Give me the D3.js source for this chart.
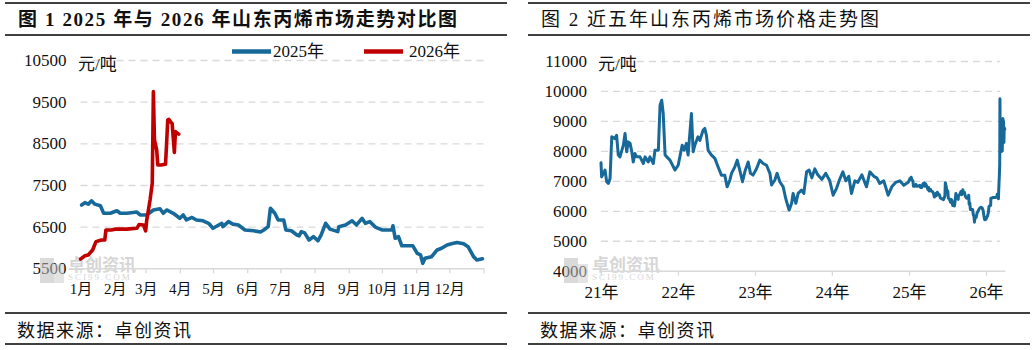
<!DOCTYPE html>
<html><head><meta charset="utf-8">
<script src="https://cdn.jsdelivr.net/npm/d3@7"></script>
<style>
html,body{margin:0;padding:0;background:#fff;}
svg{display:block;}
</style></head><body>
<svg id="chart" width="1035" height="350"></svg>
<script>
// ---------- data ----------
const monthLabels = ["1月","2月","3月","4月","5月","6月","7月","8月","9月","10月","11月","12月"];
const yearLabels = ["21年","22年","23年","24年","25年","26年"];
const ticksCompare = [5500,6500,7500,8500,9500,10500];
const ticksFiveYear = [4000,5000,6000,7000,8000,9000,10000,11000];
const seriesNames = ["2025年","2026年"];

// 2025 Shandong propylene price (yuan/ton)
const days2025 = ["01-02","01-05","01-08","01-11","01-14","01-19","01-22","01-28","02-03","02-06","02-12","02-21","02-24","03-02","03-08","03-14","03-17","03-20","03-26","04-01","04-04","04-07","04-12","04-16","04-22","04-27","05-01","05-09","05-10","05-15","05-19","05-24","05-30","06-07","06-13","06-16","06-20","06-22","06-26","06-29","07-04","07-06","07-11","07-16","07-18","07-20","07-23","07-27","07-31","08-04","08-07","08-11","08-15","08-22","08-23","08-29","09-04","09-08","09-13","09-16","09-20","09-25","10-01","10-10","10-11","10-13","10-16","10-19","10-29","11-02","11-05","11-07","11-09","11-15","11-20","11-24","11-29","12-03","12-08","12-14","12-18","12-23","12-26","12-31"];
const price2025 = [7020,7075,7040,7120,7040,7000,6820,6820,6880,6820,6820,6850,6780,6780,6900,6930,6820,6900,6820,6700,6780,6660,6720,6660,6640,6580,6460,6580,6500,6620,6560,6540,6420,6400,6370,6420,6500,6940,6820,6660,6660,6420,6400,6300,6280,6380,6350,6180,6260,6160,6300,6580,6440,6380,6500,6540,6640,6540,6700,6580,6620,6490,6420,6420,6520,6220,6260,6040,6040,5860,5820,5620,5740,5780,5940,5980,6060,6090,6120,6090,6020,5780,5700,5730];

// 2026 Shandong propylene price (yuan/ton)
const days2026 = ["01-01","01-05","01-08","01-12","01-15","01-20","01-23","01-24","01-29","02-01","02-12","02-21","02-23","02-27","03-01","03-02","03-05","03-07","03-08","03-09","03-11","03-12","03-15","03-19","03-20","03-21","03-22","03-24","03-25","03-27","03-28","03-30","03-31"];
const price2026 = [5720,5800,5820,5940,6140,6180,6180,6420,6420,6440,6440,6460,6550,6540,6400,6660,7140,7540,9740,8580,8340,7980,7980,8000,8500,9060,9075,9000,8980,8280,8780,8740,8720];

// 2021-2024 Shandong propylene price (yuan/ton)
const histDates = ["2021-01-01","2021-01-04","2021-01-20","2021-01-28","2021-02-05","2021-02-13","2021-02-21","2021-03-08","2021-03-16","2021-03-24","2021-04-01","2021-04-17","2021-04-25","2021-05-03","2021-05-10","2021-05-19","2021-05-27","2021-06-03","2021-06-11","2021-06-19","2021-07-05","2021-07-21","2021-07-29","2021-08-13","2021-08-21","2021-09-06","2021-09-14","2021-09-30","2021-10-08","2021-10-16","2021-10-23","2021-11-01","2021-11-09","2021-11-24","2021-12-10","2021-12-18","2022-01-02","2022-01-10","2022-01-21","2022-01-30","2022-02-10","2022-02-18","2022-03-06","2022-03-14","2022-03-22","2022-04-06","2022-04-15","2022-04-30","2022-05-08","2022-05-16","2022-05-24","2022-06-09","2022-06-25","2022-07-10","2022-07-26","2022-08-11","2022-08-22","2022-09-04","2022-09-12","2022-09-28","2022-10-09","2022-10-21","2022-11-03","2022-11-14","2022-11-30","2022-12-11","2022-12-23","2023-01-09","2023-01-24","2023-02-09","2023-02-25","2023-03-13","2023-03-21","2023-04-05","2023-04-16","2023-04-29","2023-05-15","2023-05-27","2023-06-12","2023-06-24","2023-07-01","2023-07-14","2023-07-25","2023-08-10","2023-08-21","2023-09-03","2023-09-15","2023-09-28","2023-10-12","2023-10-26","2023-11-14","2023-12-03","2023-12-22","2024-01-07","2024-01-23","2024-02-07","2024-02-22","2024-03-07","2024-03-21","2024-04-03","2024-04-19","2024-05-03","2024-05-22","2024-06-13","2024-06-29","2024-07-18","2024-08-01","2024-08-15","2024-09-03","2024-09-24","2024-10-11","2024-10-30","2024-11-18","2024-12-07","2024-12-28"];
const histPrices = [7600,7130,7360,6970,6910,7080,8470,8410,8520,7860,7800,8190,8580,7970,8300,8250,7970,7630,7910,7800,7800,7580,7800,7630,7800,7580,8020,8020,9520,9690,9250,7860,7800,7690,7470,7360,7520,7800,8190,8020,8250,7860,9250,7970,8190,8470,8350,8690,8750,8520,8020,7860,7750,7470,7190,7190,6800,7020,7250,7470,7690,7360,6970,7300,7630,7250,7190,7410,7690,7580,7520,7250,6860,7020,7250,6970,6800,6410,6020,6250,6580,6250,6580,6690,6580,7300,7360,7100,7400,7200,7050,7250,7000,6520,6750,7050,7300,7000,7150,6580,7000,6950,7200,6800,7300,7150,7100,6910,7000,6520,6800,6950,7000,6850,6950];

// ---------- styles ----------
const FONT = '"Liberation Serif","DejaVu Serif","Noto Sans CJK SC",serif';
const INK = "#111";
const BLUE = "#17699a";
const RED = "#c00000";
const GRID = "#d9d9d9";

const svg = d3.select("#chart");
const parse = d3.timeParse("%Y-%m-%d");

// panel frame: rules and title / source text
function frame(x0, x1, title, titleX, weight, spacing) {
  const g = svg.append("g");
  [3, 35, 313, 344].forEach(y => {
    g.append("line").attr("x1", x0).attr("x2", x1).attr("y1", y).attr("y2", y)
      .attr("stroke", "#000").attr("stroke-width", 1.4);
  });
  g.append("text").attr("x", titleX).attr("y", 19).attr("dominant-baseline", "central")
    .attr("font-family", FONT).attr("font-size", 19).attr("font-weight", weight)
    .attr("letter-spacing", spacing).attr("fill", INK).text(title);
  g.append("text").attr("x", titleX - 1).attr("y", 331).attr("dominant-baseline", "central")
    .attr("font-family", FONT).attr("font-size", 18).attr("letter-spacing", 1.5)
    .attr("fill", INK).text("数据来源：卓创资讯");
}

// faint publisher mark near the origin
function watermark(x, y) {
  const g = svg.append("g").attr("opacity", 0.55);
  g.append("rect").attr("x", x).attr("y", y - 8).attr("width", 14).attr("height", 25).attr("fill", "#bdbdbd");
  g.append("rect").attr("x", x + 14).attr("y", y - 2).attr("width", 10).attr("height", 19).attr("fill", "#cfcfcf");
  g.append("text").attr("x", x + 28).attr("y", y - 1).attr("dominant-baseline", "central")
    .attr("font-family", FONT).attr("font-size", 17).attr("font-weight", "bold")
    .attr("fill", "#b5b5b5").text("卓创资讯");
  g.append("text").attr("x", x + 28).attr("y", y + 11).attr("dominant-baseline", "central")
    .attr("font-family", FONT).attr("font-size", 9).attr("letter-spacing", 2)
    .attr("fill", "#b5b5b5").text("SCI99.COM");
}

function styleAxis(g, size) {
  g.selectAll("text").attr("font-family", FONT).attr("font-size", size).attr("fill", INK);
}

// ---------- panel 1: 2025 vs 2026 ----------
frame(5, 507, "图 1 2025 年与 2026 年山东丙烯市场走势对比图", 18, "bold", 1.6);

const xA = d3.scaleTime().domain([new Date(2025, 0, 1), new Date(2026, 0, 1)]).range([80.5, 483.5]);
const yA = d3.scaleLinear().domain([5500, 10500]).range([268.3, 60]);

const gyA = svg.append("g").attr("transform", `translate(${xA.range()[0]},0)`)
  .call(d3.axisLeft(yA).tickValues(ticksCompare).tickFormat(d3.format("d"))
    .tickSize(-(xA.range()[1] - xA.range()[0])).tickPadding(14));
gyA.select(".domain").remove();
gyA.selectAll(".tick line").attr("stroke", GRID).attr("stroke-width", 1.3).attr("stroke-dasharray", "7,5")
  .filter(d => d === ticksCompare[0]).remove();
styleAxis(gyA, 17);

watermark(40, 266);

const monthStarts = d3.timeMonth.range(new Date(2025, 0, 1), new Date(2026, 0, 2));
const gxA = svg.append("g").attr("transform", `translate(0,${yA(5500)})`)
  .call(d3.axisBottom(xA).tickValues(monthStarts).tickFormat((d, i) => monthLabels[i] || "")
    .tickSize(5).tickSizeOuter(0).tickPadding(10));
gxA.select(".domain").attr("stroke", GRID).attr("stroke-width", 1.5);
gxA.selectAll(".tick line").attr("stroke", GRID).attr("stroke-width", 1.3);
styleAxis(gxA, 15);

svg.append("text").attr("x", 78).attr("y", 64).attr("dominant-baseline", "central")
  .attr("font-family", FONT).attr("font-size", 17).attr("fill", INK).text("元/吨");

const lineA = d3.line().x(d => xA(d.date)).y(d => yA(d.value)).curve(d3.curveLinear);
const s2025 = days2025.map((d, i) => ({ date: parse("2025-" + d), value: price2025[i] }));
const s2026 = days2026.map((d, i) => ({ date: parse("2025-" + d), value: price2026[i] }));

svg.append("path").datum(s2025).attr("d", lineA).attr("fill", "none")
  .attr("stroke", BLUE).attr("stroke-width", 3.6).attr("stroke-linejoin", "round").attr("stroke-linecap", "round");
svg.append("path").datum(s2026).attr("d", lineA).attr("fill", "none")
  .attr("stroke", RED).attr("stroke-width", 3.6).attr("stroke-linejoin", "round").attr("stroke-linecap", "round");

// legend
const legend = svg.append("g");
[[BLUE, 232, 273], [RED, 364, 409]].forEach(([c, lx, tx], i) => {
  legend.append("line").attr("x1", lx).attr("x2", lx + 39).attr("y1", 51.5).attr("y2", 51.5)
    .attr("stroke", c).attr("stroke-width", 4.5);
  legend.append("text").attr("x", tx).attr("y", 51.5).attr("dominant-baseline", "central")
    .attr("font-family", FONT).attr("font-size", 17).attr("fill", INK).text(seriesNames[i]);
});

// ---------- panel 2: five-year trend ----------
frame(528, 1030, "图 2 近五年山东丙烯市场价格走势图", 541, "normal", 2);

const xB = d3.scaleTime().domain([new Date(2021, 0, 1), new Date(2026, 3, 1)]).range([601, 1005]);
const yB = d3.scaleLinear().domain([4000, 11000]).range([270.7, 61]);

const gyB = svg.append("g").attr("transform", `translate(601,0)`)
  .call(d3.axisLeft(yB).tickValues(ticksFiveYear).tickFormat(d3.format("d"))
    .tickSize(-399).tickPadding(14));
gyB.select(".domain").remove();
gyB.selectAll(".tick line").attr("stroke", GRID).attr("stroke-width", 1.3).attr("stroke-dasharray", "7,5")
  .filter(d => d === ticksFiveYear[0]).remove();
styleAxis(gyB, 17);

watermark(564, 266);

const yearStarts = d3.timeYear.range(new Date(2021, 0, 1), new Date(2026, 0, 2));
const gxB = svg.append("g").attr("transform", `translate(0,${yB(4000)})`)
  .call(d3.axisBottom(xB).tickValues(yearStarts).tickFormat((d, i) => yearLabels[i])
    .tickSize(5).tickSizeOuter(0).tickPadding(10));
gxB.select(".domain").attr("stroke", GRID).attr("stroke-width", 1.5);
gxB.selectAll(".tick line").attr("stroke", GRID).attr("stroke-width", 1.3);
styleAxis(gxB, 17);

svg.append("text").attr("x", 598).attr("y", 64).attr("dominant-baseline", "central")
  .attr("font-family", FONT).attr("font-size", 17).attr("fill", INK).text("元/吨");

const fiveYear = histDates.map((d, i) => ({ date: parse(d), value: histPrices[i] }))
  .concat(days2025.map((d, i) => ({ date: parse("2025-" + d), value: price2025[i] })))
  .concat(days2026.map((d, i) => ({ date: parse("2026-" + d), value: price2026[i] })));

const lineB = d3.line().x(d => xB(d.date)).y(d => yB(d.value));
svg.append("path").datum(fiveYear).attr("d", lineB).attr("fill", "none")
  .attr("stroke", BLUE).attr("stroke-width", 3).attr("stroke-linejoin", "round").attr("stroke-linecap", "round");
</script>
</body></html>
